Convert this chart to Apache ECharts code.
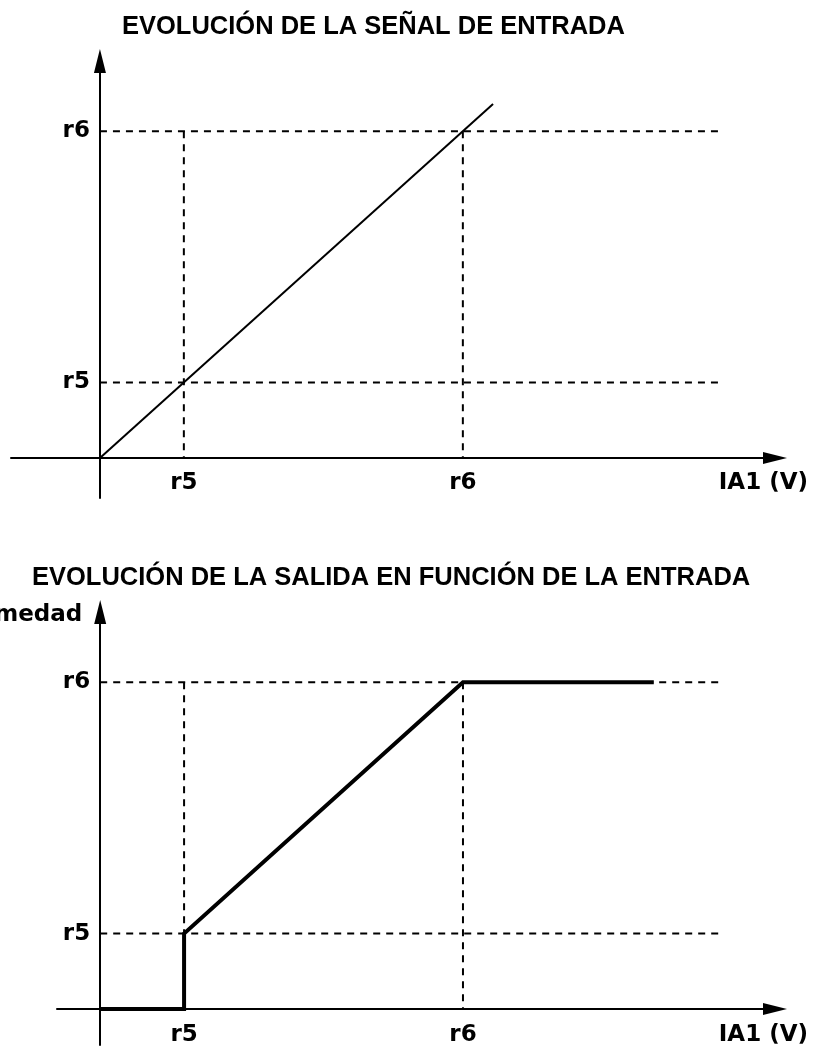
<!DOCTYPE html>
<html>
<head>
<meta charset="utf-8">
<script src="https://cdn.jsdelivr.net/npm/echarts@6/dist/echarts.min.js"></script>
<style>
  html, body { margin: 0; padding: 0; background: #fff; }
  #chart { width: 813px; height: 1046px; }
</style>
</head>
<body>
<div id="chart"></div>
<script>
const titles = ['EVOLUCIÓN DE LA SEÑAL DE ENTRADA', 'EVOLUCIÓN DE LA SALIDA EN FUNCIÓN DE LA ENTRADA']
const thresholdNames = ['r5', 'r6']
const thresholdValues = [2, 8.65]
const xAxisName = 'IA1 (V)'
const yAxisNames = ['', 'Humedad']
const inputSignal = [[0, 0], [9.37, 9.37]]
const outputSignal = [[0, 0], [2, 0], [2, 2], [8.65, 8.65], [13.2, 8.65]]
const guideEnd = 14.8

const labelFont = { fontFamily: 'DejaVu Sans', fontWeight: 'bold', fontSize: 23, color: '#000' }
const titleFont = { fontFamily: 'Liberation Sans', fontWeight: 'bold', fontSize: 25.5, color: '#000' }

// axis ranges per grid (axes run past the origin like the sketch)
const xMin = [-2.12, -1.03]
const xMax = 16.09
const yMin = [-1.06, -0.95]
const yMax = [10.51, 10.51]
const grids = [
  { left: 11, top: 61, width: 764, height: 437 },
  { left: 57, top: 612, width: 718, height: 433 }
]

// labels sit at the grid edge, so pull them back to the zero lines
function originOffsets(i) {
  const g = grids[i]
  return {
    x: (0 - xMin[i]) / (xMax - xMin[i]) * g.width,
    y: (0 - yMin[i]) / (yMax[i] - yMin[i]) * g.height
  }
}

function tickName(v) {
  let best = 0
  thresholdValues.forEach((t, i) => {
    if (Math.abs(t - v) < Math.abs(thresholdValues[best] - v)) best = i
  })
  return thresholdNames[best]
}

const axisLine = {
  onZero: true,
  symbol: ['none', 'triangle'],
  symbolSize: [12, 24],
  lineStyle: { color: '#000', width: 2 }
}

function makeX(i) {
  return {
    gridIndex: i,
    type: 'value',
    min: xMin[i],
    max: xMax,
    name: xAxisName,
    nameLocation: 'end',
    nameGap: 33,
    nameMoveOverlap: false,
    nameTextStyle: { ...labelFont, align: 'right', verticalAlign: 'top', padding: [14, 0, 0, 0] },
    axisLine: axisLine,
    axisTick: { show: false },
    splitLine: { show: false },
    axisLabel: { ...labelFont, customValues: thresholdValues, formatter: tickName, margin: 14 - originOffsets(i).y }
  }
}

function makeY(i) {
  return {
    gridIndex: i,
    type: 'value',
    min: yMin[i],
    max: yMax[i],
    name: yAxisNames[i],
    nameLocation: 'end',
    nameGap: -3,
    nameMoveOverlap: false,
    nameTextStyle: { ...labelFont, align: 'right', verticalAlign: 'middle', padding: [0, 18, 0, 0] },
    axisLine: axisLine,
    axisTick: { show: false },
    splitLine: { show: false },
    axisLabel: { ...labelFont, customValues: thresholdValues, formatter: tickName, margin: 10 - originOffsets(i).x }
  }
}

// dashed guide lines at r5 / r6
function guides(i) {
  const top = thresholdValues[thresholdValues.length - 1]
  const out = []
  thresholdValues.forEach(v => {
    out.push([[0, v], [guideEnd, v]])
    out.push([[v, top], [v, 0]])
  })
  return out.map(d => ({
    type: 'line',
    xAxisIndex: i,
    yAxisIndex: i,
    data: d,
    symbol: 'none',
    silent: true,
    lineStyle: { color: '#000', width: 2, type: [7, 6] }
  }))
}

const chart = echarts.init(document.getElementById('chart'), null, { renderer: 'canvas' })
chart.setOption({
  backgroundColor: '#fff',
  animation: false,
  title: [
    { text: titles[0], left: 117, top: 9, textStyle: titleFont },
    { text: titles[1], left: 27, top: 560, textStyle: titleFont }
  ],
  grid: grids.map(g => ({ ...g, outerBoundsMode: 'none' })),
  xAxis: [makeX(0), makeX(1)],
  yAxis: [makeY(0), makeY(1)],
  series: [
    ...guides(0),
    ...guides(1),
    {
      name: 'Entrada',
      type: 'line',
      xAxisIndex: 0,
      yAxisIndex: 0,
      data: inputSignal,
      symbol: 'none',
      lineStyle: { color: '#000', width: 2 }
    },
    {
      name: 'Salida',
      type: 'line',
      xAxisIndex: 1,
      yAxisIndex: 1,
      data: outputSignal,
      symbol: 'none',
      lineStyle: { color: '#000', width: 4, join: 'miter' }
    }
  ]
})
</script>
</body>
</html>
